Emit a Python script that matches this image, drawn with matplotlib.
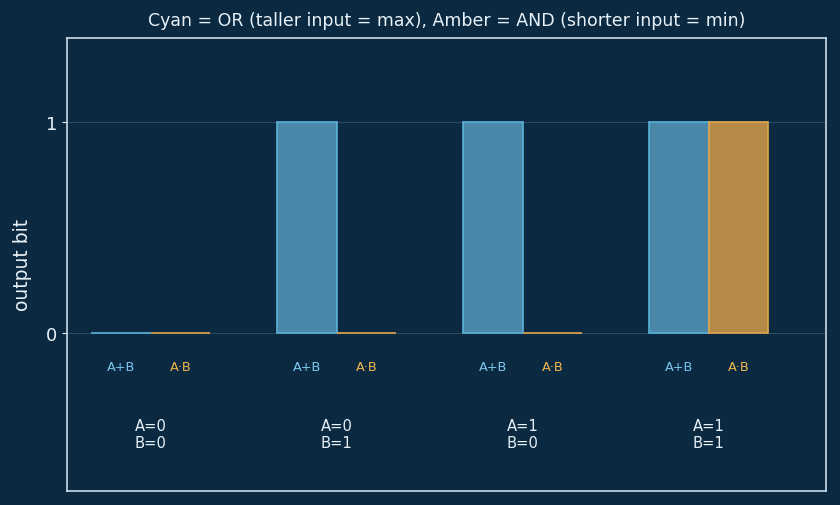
import matplotlib.pyplot as plt
import numpy as np

cases = ["A=0\nB=0", "A=0\nB=1", "A=1\nB=0", "A=1\nB=1"]
or_out = [0, 1, 1, 1]
and_out = [0, 0, 0, 1]

bg = "#0b2a42"
cyan_fill = "#4a87a8"
cyan_edge = "#5ab3dc"
amber_fill = "#b58a48"
amber_edge = "#e3a64a"
fg = "#e8f1f7"

fig, ax = plt.subplots(figsize=(8.4, 5.06), dpi=100)
fig.patch.set_facecolor(bg)
ax.set_facecolor(bg)
fig.subplots_adjust(left=0.080, right=0.983, top=0.923, bottom=0.028)

x = np.arange(len(cases))
w = 0.32
ax.bar(x - w / 2, or_out, w, color=cyan_fill, edgecolor=cyan_edge, linewidth=1.2, zorder=3)
ax.bar(x + w / 2, and_out, w, color=amber_fill, edgecolor=amber_edge, linewidth=1.2, zorder=3)

for xi, lab in zip(x, cases):
    ax.text(xi - w / 2, -0.16, "A+B", color="#7cc6ee", ha="center", va="center", fontsize=9.3)
    ax.text(xi + w / 2, -0.16, "A·B", color="#f0b64c", ha="center", va="center", fontsize=9.3)
    ax.text(xi, -0.48, lab, color=fg, ha="center", va="center", fontsize=10.6, linespacing=1.1)

ax.set_xlim(-0.45, 3.63)
ax.set_ylim(-0.75, 1.4)
ax.set_xticks([])
ax.set_yticks([0, 1])
ax.tick_params(axis="y", colors=fg, labelsize=13)
ax.yaxis.grid(True, color="#2a4a62", linewidth=0.8, zorder=0)
ax.set_ylabel("output bit", color=fg, fontsize=13.5, labelpad=10)
ax.set_title("Cyan = OR (taller input = max), Amber = AND (shorter input = min)",
             color=fg, fontsize=12.5, pad=9)
for s in ax.spines.values():
    s.set_color("#c8dcea")
    s.set_linewidth(1.2)

fig.savefig("out.png", dpi=100, facecolor=bg)
